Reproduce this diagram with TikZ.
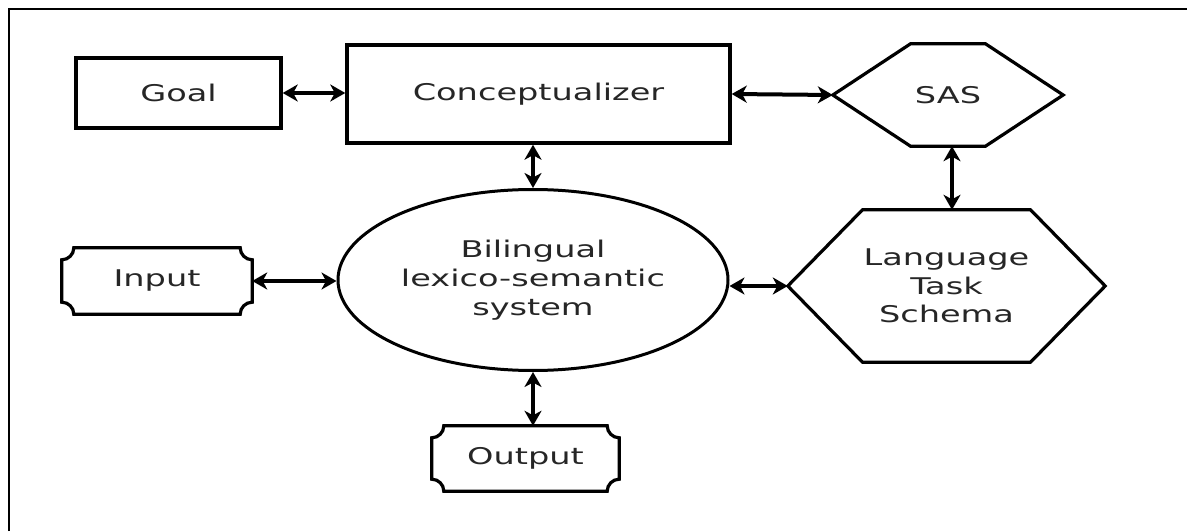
\documentclass[tikz,border=0pt]{standalone}
\usepackage{fontspec}
\setmainfont{DejaVu Sans}[FakeStretch=1.46]
\usetikzlibrary{arrows.meta,calc,shapes.geometric}

% corner radius of the notched boxes
\newcommand\notchr{12pt}
% outline of a box with concave (notched) corners around a named node
\newcommand\notchedframe[1]{%
  \draw[outline] ($(#1.north west)+(\notchr,0)$) -- ($(#1.north east)+(-\notchr,0)$)
    arc[start angle=180,end angle=270,radius=\notchr]
    -- ($(#1.south east)+(0,\notchr)$)
    arc[start angle=90,end angle=180,radius=\notchr]
    -- ($(#1.south west)+(\notchr,0)$)
    arc[start angle=0,end angle=90,radius=\notchr]
    -- ($(#1.north west)+(0,-\notchr)$)
    arc[start angle=270,end angle=360,radius=\notchr]
    -- cycle;}
% hexagon with pointed left/right ends around a named node; #2 = half width of flat edge
\newcommand\hexframe[2]{%
  \draw[outline] (#1.west) -- ($(#1.north)+(-#2,0)$) -- ($(#1.north)+(#2,0)$)
    -- (#1.east) -- ($(#1.south)+(#2,0)$) -- ($(#1.south)+(-#2,0)$) -- cycle;}

\begin{document}
\begin{tikzpicture}[x=1pt,y=1pt,
  outline/.style={line width=3.2pt,line join=miter},
  txt/.style={inner sep=0pt,align=center,text=black!85,font=\fontsize{23}{29}\selectfont},
  boxnode/.style={txt,draw,line width=3.4pt},
  plain/.style={txt,draw=none},
  link/.style={line width=4pt,{Stealth[length=15pt,width=17pt,inset=4.5pt]}-{Stealth[length=15pt,width=17pt,inset=4.5pt]}}]
\useasboundingbox (0,0) rectangle (1187,531);
% frame cut by the page edge
\draw[line width=2.6pt] (9,0) -- (9,522) -- (1187,522);

% boxes
\node[boxnode,minimum width=205,minimum height=70] (goal) at (178.5,438) {Goal};
\node[boxnode,minimum width=383,minimum height=98] (conc) at (538.5,437) {Conceptualizer};
\node[txt,draw,ellipse,line width=3pt,minimum width=390,minimum height=181] (lex) at (533,251)
  {Bilingual\\lexico-semantic\\system};

% hexagons
\node[plain,minimum width=230,minimum height=102] (sas) at (948,436) {SAS};
\hexframe{sas}{37.5}
\node[plain,minimum width=317,minimum height=152,font=\fontsize{23}{28.5}\selectfont] (lts) at (946.5,245)
  {Language\\Task\\Schema};
\hexframe{lts}{84}

% notched boxes
\node[plain,minimum width=190,minimum height=66] (input) at (157,250) {Input};
\notchedframe{input}
\node[plain,minimum width=187,minimum height=65] (output) at (525.5,72.5) {Output};
\notchedframe{output}

% connectors
\coordinate (sasfoot) at ($(sas.south)+(4,0)$);
\draw[link] (goal.east) -- (goal.east -| conc.west);
\draw[link] (conc.east) -- (sas.west);
\draw[link] (conc.south -| lex.north) -- (lex.north);
\draw[link] (sasfoot) -- (sasfoot |- lts.north);
\draw[link] (input.east) -- (input.east -| lex.west);
\draw[link] (lts.west -| lex.east) -- (lts.west);
\draw[link] (lex.south) -- (lex.south |- output.north);
\end{tikzpicture}
\end{document}
